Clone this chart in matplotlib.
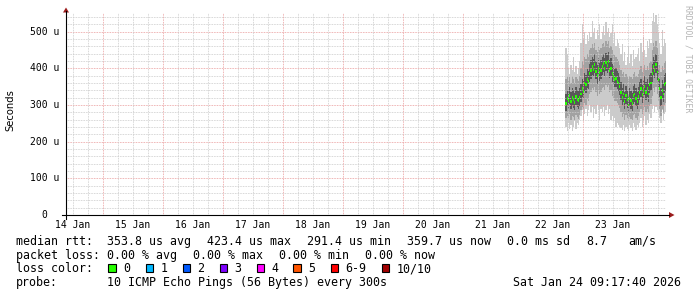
import matplotlib
matplotlib.use("Agg")
import matplotlib.pyplot as plt
from matplotlib.patches import Rectangle, Polygon
from matplotlib.lines import Line2D
from matplotlib.transforms import blended_transform_factory
import numpy as np

# ---------------- data ----------------
day_labels = ["14 Jan", "15 Jan", "16 Jan", "17 Jan", "18 Jan",
              "19 Jan", "20 Jan", "21 Jan", "22 Jan", "23 Jan"]
y_ticks = [0, 100, 200, 300, 400, 500]
y_tick_labels = ["0", "100 u", "200 u", "300 u", "400 u", "500 u"]

# hours since 14 Jan 00:00
t_end = 249.294          # Sat Jan 24 09:17:40
t_start = t_end - 240.0  # 10 day window
data_start = 208.75      # 22 Jan 16:45
data_step = 0.5          # hours between samples

median = [300, 305, 318, 312, 325, 310, 320, 315, 308, 322, 316, 312, 320,
          330, 345, 338, 360, 355, 370, 365,
          385, 395, 405, 398, 410, 392, 380, 400, 388, 395, 405, 412, 400, 415, 408, 418, 395, 400,
          385, 378, 370, 372, 365, 360, 350,
          335, 320, 330, 310, 325, 315, 300, 318, 312, 305, 325, 330, 318, 310, 322,
          335, 345, 328, 340, 350, 335, 345, 330, 355, 360,
          385, 405, 395, 410, 390,
          370, 345, 320, 340, 330, 355,
          360]
ping_max = [380, 455, 440, 400, 385, 410, 395, 430, 390, 405, 385, 400, 420,
            470, 520, 480, 500, 465, 490, 475,
            500, 485, 530, 495, 510, 480, 505, 490, 520, 480, 500, 515, 490, 525, 500, 510, 485, 495,
            520, 470, 495, 460, 480, 470, 455,
            440, 465, 420, 445, 410, 430, 460, 415, 440, 405, 450, 425, 430, 440, 455,
            420, 470, 445, 485, 450, 430, 475, 455, 480, 470,
            530, 550, 525, 545, 520,
            500, 470, 440, 505, 460, 480,
            470]
ping_min = [225, 240, 230, 250, 235, 245, 228, 240, 255, 235, 250, 245, 260,
            270, 285, 255, 275, 290, 270, 285,
            300, 280, 295, 265, 290, 275, 300, 285, 260, 290, 280, 295, 270, 285, 300, 275, 290, 260,
            270, 255, 265, 240, 250, 245, 240,
            238, 232, 245, 230, 240, 235, 228, 245, 238, 230, 250, 240, 232, 245, 240,
            250, 265, 240, 255, 270, 245, 260, 250, 275, 265,
            290, 300, 280, 295, 285,
            280, 265, 250, 285, 260, 275,
            280]
band_hi = [350, 370, 380, 365, 375, 360, 380, 370, 360, 375, 370, 365, 380,
           400, 420, 410, 430, 425, 440, 430,
           450, 455, 465, 455, 470, 450, 445, 460, 450, 455, 465, 470, 460, 475, 465, 475, 455, 460,
           450, 440, 435, 430, 425, 420, 410,
           395, 385, 390, 375, 385, 380, 370, 380, 375, 370, 385, 390, 380, 375, 385,
           395, 405, 390, 400, 410, 395, 405, 395, 415, 420,
           450, 470, 460, 475, 455,
           435, 410, 390, 405, 395, 415,
           420]
band_lo = [260, 265, 270, 265, 275, 260, 270, 268, 260, 272, 268, 262, 272,
           285, 295, 290, 305, 300, 315, 310,
           330, 335, 345, 340, 350, 335, 325, 340, 330, 335, 345, 350, 340, 355, 348, 355, 335, 340,
           325, 318, 310, 312, 305, 300, 292,
           280, 268, 275, 260, 272, 265, 255, 268, 262, 258, 272, 275, 265, 260, 270,
           280, 290, 275, 285, 295, 280, 290, 278, 298, 302,
           325, 345, 335, 350, 330,
           312, 290, 270, 288, 278, 300,
           305]
core_hi = [325, 330, 342, 338, 350, 335, 345, 340, 333, 348, 340, 337, 345,
           358, 372, 365, 388, 382, 398, 392,
           412, 422, 432, 425, 438, 420, 408, 428, 415, 422, 432, 440, 428, 443, 435, 445, 422, 428,
           412, 405, 398, 400, 392, 388, 378,
           362, 346, 357, 336, 352, 342, 326, 345, 338, 332, 352, 357, 345, 336, 348,
           362, 372, 355, 368, 378, 362, 372, 357, 382, 388,
           412, 432, 422, 438, 418,
           398, 372, 346, 367, 357, 382,
           386]
core_lo = [278, 284, 296, 290, 303, 288, 298, 293, 286, 300, 294, 290, 298,
           308, 322, 316, 337, 333, 347, 343,
           362, 372, 382, 376, 387, 370, 358, 377, 366, 372, 382, 389, 378, 392, 386, 395, 373, 378,
           363, 356, 348, 350, 343, 338, 328,
           313, 298, 308, 288, 303, 293, 278, 296, 290, 283, 303, 308, 296, 288, 300,
           313, 323, 306, 318, 328, 313, 323, 308, 333, 338,
           362, 383, 373, 388, 368,
           348, 323, 298, 318, 308, 333,
           338]

loss_labels = ["0", "1", "2", "3", "4", "5", "6-9", "10/10"]
loss_colors = ["#26ff00", "#00b8ff", "#0059ff", "#7e00ff", "#ff00ff", "#ff5500", "#ff0000", "#a10000"]

rtt_stats = ["353.8 us avg", "423.4 us max", "291.4 us min", "359.7 us now", "0.0 ms sd", "8.7", "am/s"]
loss_stats = ["0.00 % avg", "0.00 % max", "0.00 % min", "0.00 % now"]
probe_text = "10 ICMP Echo Pings (56 Bytes) every 300s"
stamp_text = "Sat Jan 24 09:17:40 2026"

# ---------------- layout ----------------
W, H = 697, 297
def fx(x): return x / W
def fy(y): return 1 - y / H

MONO = "DejaVu Sans Mono"
fig = plt.figure(figsize=(W / 100, H / 100), dpi=100)
fig.patch.set_facecolor("white")
L, R, T, B = 66, 666, 13.3, 215
ax = fig.add_axes([fx(L), fy(B), (R - L) / W, (B - T) / H])
ax.set_xlim(t_start, t_end)
ax.set_ylim(0, 550)
ax.axis("off")

t = data_start + data_step * np.arange(len(median))
med = np.array(median, dtype=float)

ax.fill_between(t, ping_min, ping_max, step="mid", color="#cbcbcb", lw=0, zorder=1)
ax.fill_between(t, band_lo, band_hi, step="mid", color="#a2a2a2", lw=0, zorder=2)
ax.fill_between(t, core_lo, core_hi, step="mid", color="#585858", lw=0, zorder=3)

# grid
dots = (0, (0.72, 0.9))
for v in range(20, 550, 20):
    if v % 100:
        ax.axhline(v, color="#cccccc", lw=0.72, ls=dots, zorder=4)
for v in range(100, 550, 100):
    ax.axhline(v, color="#eba0a0", lw=0.72, ls=dots, zorder=4)
h = 6.0
while h < t_end:
    if h > t_start:
        if h % 24 == 0:
            ax.axvline(h, color="#eba0a0", lw=0.72, ls=dots, zorder=4)
        else:
            ax.axvline(h, color="#cccccc", lw=0.72, ls=dots, zorder=4)
    h += 6.0

# median (drawn as short bars like SmokePing)
ax.fill_between(t, med - 4, med + 4, step="mid", color=loss_colors[0], lw=0, zorder=5)

# axes lines and arrows
fig.add_artist(Line2D([fx(62), fx(669)], [fy(215), fy(215)], color="black", lw=0.8))
fig.add_artist(Line2D([fx(66), fx(66)], [fy(219), fy(11)], color="black", lw=0.8))
arrow_c = "#9b1c1c"
fig.add_artist(Polygon([(fx(669), fy(212)), (fx(669), fy(218)), (fx(674.5), fy(215))],
                       closed=True, color=arrow_c, lw=0))
fig.add_artist(Polygon([(fx(63), fy(12.5)), (fx(69), fy(12.5)), (fx(66), fy(7.5))],
                       closed=True, color=arrow_c, lw=0))

# y tick labels
ty = blended_transform_factory(fig.transFigure, ax.transData)
for v, lab in zip(y_ticks, y_tick_labels):
    xr = 47 if lab == "0" else 59.5
    ax.text(fx(xr), v, lab, transform=ty, ha="right", va="center",
            family=MONO, fontsize=7, color="black")

# x tick labels at noon of each day
tx = blended_transform_factory(ax.transData, fig.transFigure)
for i, lab in enumerate(day_labels):
    ax.text(i * 24 + 12, fy(225), lab, transform=tx, ha="center", va="center",
            family=MONO, fontsize=7, color="black", clip_on=False)

fig.text(fx(10), fy(110), "Seconds", rotation=90, ha="center", va="center",
         family="DejaVu Sans", fontsize=7.2, color="black")
fig.text(fx(688), fy(59), "RRDTOOL / TOBI OETIKER", rotation=-90, ha="center", va="center",
         family=MONO, fontsize=5.9, color="#b4b4b4")

# legend
fs = 8.4
def txt(x, yb, s, **kw):
    fig.text(fx(x), fy(yb), s, ha="left", va="baseline", family=MONO, fontsize=fs,
             color="black", **kw)

rows = [244.7, 258.7, 272.2, 286.4]
txt(16, rows[0], "median rtt:")
rtt_x = [107.3, 207.3, 307.3, 407.3, 507.0, 586.0, 628.3]
for x, s in zip(rtt_x, rtt_stats):
    txt(x, rows[0], s)

txt(16, rows[1], "packet loss:")
for i, s in enumerate(loss_stats):
    txt(107.3 + i * 86, rows[1], s)

txt(16, rows[2], "loss color:")
sq_x = [108.3, 145.7, 182.7, 220.0, 256.7, 293.3, 330.7, 381.7]
for x, c, lab in zip(sq_x, loss_colors, loss_labels):
    fig.add_artist(Rectangle((fx(x), fy(272)), 7.3 / W, 7.6 / H, facecolor=c,
                             edgecolor="black", lw=0.8))
    txt(x + 14.7, rows[2], lab)

txt(16, rows[3], "probe:")
txt(107.3, rows[3], probe_text)
txt(513.3, rows[3], stamp_text)

fig.savefig("out.png", dpi=100, facecolor="white")
